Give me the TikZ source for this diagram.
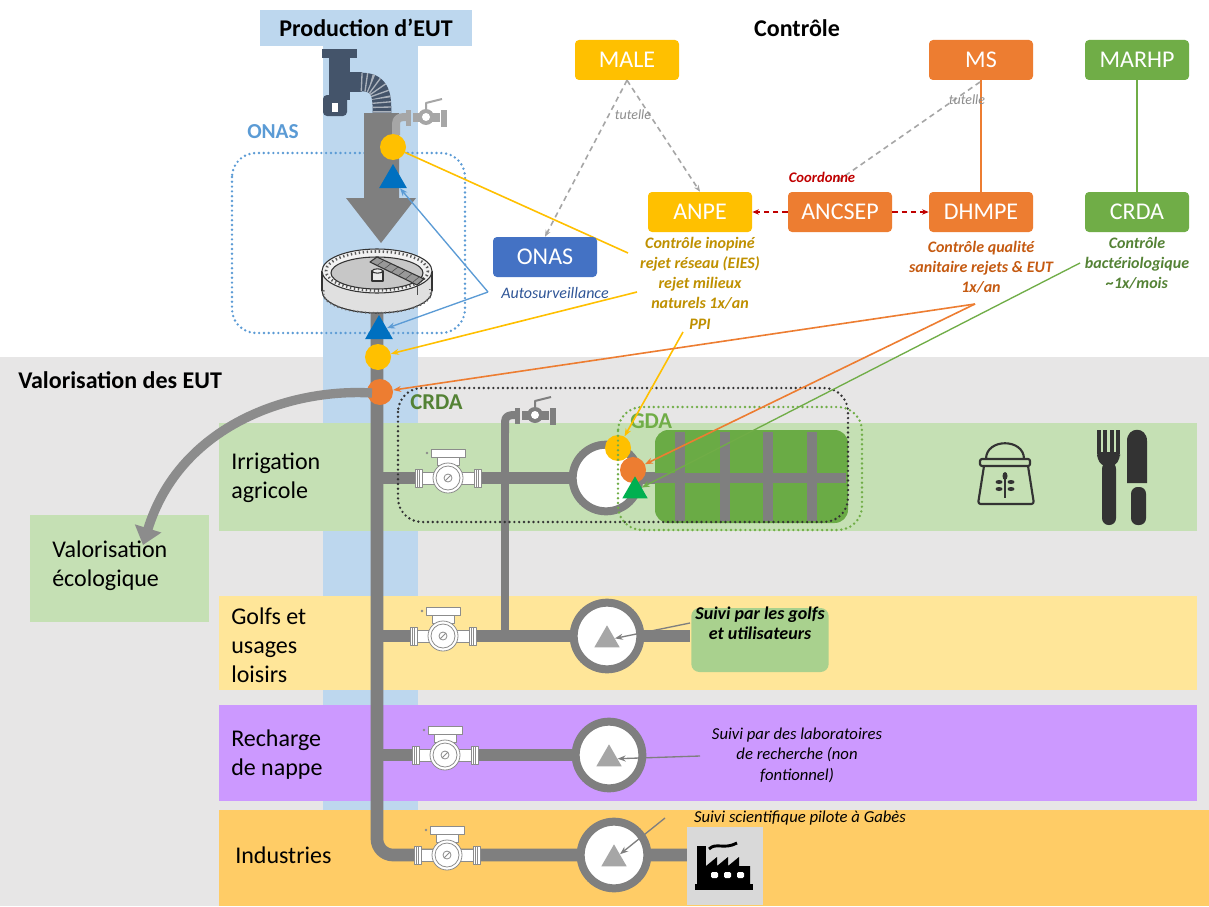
\documentclass[tikz,border=0pt]{standalone}
\usepackage{fontspec}
\setmainfont{Carlito}
\usetikzlibrary{arrows.meta,shapes.geometric,calc}

\definecolor{bandblue}{HTML}{BDD7EE}
\definecolor{bggrey}{HTML}{E7E6E6}
\definecolor{rowgreen}{HTML}{C5E0B4}
\definecolor{rowyellow}{HTML}{FFE699}
\definecolor{rowpurple}{HTML}{CC99FF}
\definecolor{roworange}{HTML}{FFCC66}
\definecolor{pipegrey}{HTML}{7F7F7F}
\definecolor{yel}{HTML}{FFC000}
\definecolor{ora}{HTML}{ED7D31}
\definecolor{grn}{HTML}{70AD47}
\definecolor{blu}{HTML}{4472C4}
\definecolor{tblue}{HTML}{0070C0}
\definecolor{tgreen}{HTML}{00B050}
\definecolor{dgreen}{HTML}{548235}
\definecolor{lblue}{HTML}{5B9BD5}
\definecolor{anpegold}{HTML}{BF9000}
\definecolor{rust}{HTML}{C55A11}
\definecolor{dred}{HTML}{C00000}
\definecolor{navy}{HTML}{44546A}
\definecolor{fieldgreen}{HTML}{6AAB45}
\definecolor{boxgreen}{HTML}{A9D18E}
\definecolor{tgrey}{HTML}{A6A6A6}
\definecolor{vgrey}{HTML}{A6A6A6}
\definecolor{mgrey}{HTML}{8C8C8C}
\definecolor{icondark}{HTML}{333333}
\definecolor{facgrey}{HTML}{D9D9D9}
\definecolor{autoblue}{HTML}{2F5597}

\tikzset{
  pipe/.style={draw=pipegrey, line width=9.5pt},
  dotline/.style={line width=2pt, dash pattern=on 0pt off 3.6pt, line cap=round},
  orgbox/.style={rounded corners=3pt, minimum width=78pt, minimum height=30pt, inner sep=0pt,
    text=white, font=\fontsize{18}{22}\selectfont},
  station/.style={circle, draw=pipegrey, line width=6pt, fill=white, minimum size=50pt, inner sep=0pt},
  tri/.style={regular polygon, regular polygon sides=3, inner sep=0pt, minimum size=22pt},
  spot/.style={circle, inner sep=0pt, minimum size=19.5pt},
  note/.style={font=\fontsize{12}{15}\selectfont\bfseries\itshape, align=center, inner sep=0pt},
  smallnote/.style={font=\fontsize{12.5}{15.3}\selectfont\itshape, align=center, inner sep=0pt},
  rowlabel/.style={anchor=west, align=left, inner sep=0pt, font=\fontsize{18}{21.8}\selectfont},
  heading/.style={font=\fontsize{18}{22}\selectfont\bfseries, inner sep=0pt},
  tip/.style={-{Stealth[length=6pt,width=4.5pt]}},
  tutelle/.style={draw=tgrey, line width=1.2pt, dash pattern=on 4pt off 3pt, -{Stealth[length=5pt,width=4pt]}},
  coord/.style={draw=dred, line width=1.2pt, dash pattern=on 4pt off 3pt, -{Stealth[length=5pt,width=4pt]}},
  meter/.pic={
    \begin{scope}[draw=mgrey, line width=0.6pt, fill=white]
      \filldraw (-33,-9) rectangle (-26,9);
      \filldraw (26,-9) rectangle (33,9);
      \draw (-30.5,-9) -- (-30.5,9); \draw (-28.2,-9) -- (-28.2,9);
      \draw (30.5,-9) -- (30.5,9); \draw (28.2,-9) -- (28.2,9);
      \filldraw (-26,-6) rectangle (-13,6);
      \filldraw (13,-6) rectangle (26,6);
      \filldraw (-11,-21) rectangle (11,-13);
      \filldraw (-17,-29) rectangle (17,-21);
      \filldraw (0,0) circle (15);
      \draw (0,0) circle (12);
      \draw (0,0) circle (4);
      \draw (-3,3) -- (3,-3);
      \fill[mgrey] (-21,-25) circle (1.3);
    \end{scope}
  },
  valve/.pic={
    \draw[line width=6pt] (0,0) -- (0,-11) .. controls (0,-17) and (4,-18) .. (10,-18);
    \fill (10,-25) rectangle (15,-9);
    \fill (17,-22) rectangle (44,-13);
    \fill (30,-18) circle (8);
    \fill[white] (30,-18) circle (4);
    \fill (45,-25) rectangle (51,-8);
    \draw[line width=1.5pt] (30,-26) -- (30,-32) -- (46,-36);
  },
}

\begin{document}
\begin{tikzpicture}[x=0.75pt, y=-0.75pt, line join=round]
\useasboundingbox (0,0) rectangle (1209,906);

% ---------- backgrounds ----------
\fill[white] (0,0) rectangle (1209,906);
\fill[bggrey] (0,357) rectangle (1209,906);
\fill[bandblue] (323,40) rectangle (418,810);
\node[fill=bandblue, minimum width=159pt, minimum height=27pt, heading] (prod) at (366,28) {Production d’EUT};
\node[heading] (ctrl) at (797,28) {Contrôle};
\node[heading, anchor=west] (valo) at (18,380) {Valorisation des EUT};

% ---------- usage rows ----------
\fill[rowgreen] (219,423) rectangle (1197,531);
\fill[rowgreen] (30,515) rectangle (209,622);
\fill[rowyellow] (219,596) rectangle (1197,690);
\fill[rowpurple] (219,705) rectangle (1197,801);
\fill[roworange] (219,810) rectangle (1209,906);

\node[rowlabel] (irr) at (231,478) {Irrigation\\agricole};
\node[rowlabel] (eco) at (52,566) {Valorisation\\écologique};
\node[rowlabel] (golf) at (231,645) {Golfs et\\usages\\loisirs};
\node[rowlabel] (rech) at (231,755) {Recharge\\de nappe};
\node[rowlabel] (ind) at (235,855) {Industries};

% ---------- ONAS perimeter ----------
\draw[dotline, lblue, rounded corners=18pt] (232,153) rectangle (465,333);
\node[font=\fontsize{16}{20}\selectfont\bfseries, text=lblue, inner sep=0pt] (onaslbl) at (273,132) {ONAS};

% ---------- pipes ----------
\draw[pipe, rounded corners=12pt] (377,300) -- (377,855) -- (690,855);
\draw[pipe] (377,478) -- (845,478);
\draw[pipe] (377,636) -- (690,636);
\draw[pipe] (377,755) -- (600,755);
\draw[pipegrey, line width=6pt] (505,430) -- (505,636);

% cultivated plot
\fill[fieldgreen, rounded corners=10pt] (655,430) rectangle (848,523);
\foreach \gx in {680,725,768,812} \draw[pipegrey, line width=7pt] (\gx,432) -- (\gx,521);
\draw[pipegrey, line width=7pt] (640,478) -- (846,478);

% drain inlet
\begin{scope}[navy]
  \fill (322,49) rectangle (357,58);
  \fill (329,58) rectangle (350,100);
  \fill (348,72) rectangle (362,92);
  \draw[line width=14pt] (361,82) .. controls (381,82) and (382,95) .. (382,113);
  \draw[navy!45, line width=14pt, dash pattern=on 1pt off 2.5pt] (361,82) .. controls (381,82) and (382,95) .. (382,113);
  \fill[rounded corners=3pt] (323,95) rectangle (347,116);
  \fill[white] (332,103) rectangle (338,112);
\end{scope}

% main flow arrow
\fill[pipegrey] (364,113) -- (399,113) -- (399,198) -- (416,198) -- (381,243) -- (346,198) -- (364,198) -- cycle;

% clarifier
\begin{scope}[draw=icondark, line width=0.8pt]
  \filldraw[fill=black!12] (377,291) ellipse (55 and 22);
  \fill[black!12] (322,271) rectangle (432,291);
  \draw (322,271) -- (322,291);
  \draw (432,271) -- (432,291);
  \draw[dash pattern=on 1pt off 2pt, line width=1.5pt, black!60] (377,293) ellipse (54 and 20);
  \fill[black!12] (323,271) rectangle (431,289);
  \filldraw[fill=black!5] (377,271) ellipse (55 and 22);
  \draw[dash pattern=on 1pt off 2pt, line width=2pt, black!65] (377,271) ellipse (51 and 19.5);
  \filldraw[fill=black!22] (377,273) ellipse (46 and 16);
  \filldraw[fill=black!8] (372,271) rectangle (383,281);
  \filldraw[fill=black!8] (377.5,271) ellipse (5.5 and 2.2);
  \filldraw[fill=black!40] (370,262) -- (377,257) -- (424,279) -- (417,285) -- cycle;
  \foreach \k in {0.15,0.3,0.45,0.6,0.75,0.9}
    \draw[black!70, line width=0.4pt] ($(370,262)!\k!(417,285)$) -- ($(377,257)!\k!(424,279)$);
  \draw[black!70, line width=0.6pt] (417,285) -- (417,295);
\end{scope}

% valves
\pic[vgrey] at (396,135) {valve};
\pic[pipegrey] at (505,433) {valve};

% meters
\pic at (448,478) {meter};
\pic at (443,636) {meter};
\pic at (445,755) {meter};
\pic at (447,855) {meter};

% monitoring stations
\node[station] (si) at (606,478) {};
\node[station] (sg) at (607,636) {};
\node[station] (sr) at (609,755) {};
\node[station] (sind) at (614,855) {};
\node[tri, fill=tgrey] (tg) at (607,640) {};
\node[tri, fill=tgrey] (tr) at (609,759) {};
\node[tri, fill=tgrey] (tind) at (614,859) {};

% sampling points on the main line
\node[tri, fill=tblue, minimum size=24pt] (bt1) at (393,180) {};
\node[spot, fill=yel] (yc1) at (393,147) {};
\node[tri, fill=tblue, minimum size=24pt] (bt2) at (379,331) {};
\node[spot, fill=yel] (yc2) at (378,357) {};
\node[spot, fill=ora] (oc1) at (380,392) {};

% sampling points on the irrigation line
\node[spot, fill=yel] (yc3) at (618,448) {};
\node[spot, fill=ora] (oc2) at (633,470) {};
\node[tri, fill=tgreen] (gt) at (635,491) {};

% diversion to ecological use
\draw[mgrey, line width=7pt, -{Triangle[length=13pt,width=20pt]}]
  (372,393) .. controls (290,388) and (180,425) .. (143,545);

% CRDA and GDA perimeters
\draw[dotline, black!80, rounded corners=18pt] (398,388) rectangle (848,522);
\draw[dotline, grn, rounded corners=18pt] (618,407) rectangle (862,530);
\node[font=\fontsize{17}{20}\selectfont\bfseries, text=dgreen, anchor=west, inner sep=0pt] (crdalbl) at (410,402) {CRDA};
\node[font=\fontsize{17}{20}\selectfont\bfseries, text=grn, anchor=west, inner sep=0pt] (gdalbl) at (630,421) {GDA};

% products icons
\begin{scope}[draw=icondark, line width=1.6pt]
  \draw (986,459) .. controls (986,438) and (1024,438) .. (1024,459);
  \draw[rounded corners=1.5pt] (980,459) rectangle (1030,466);
  \draw[rounded corners=2pt] (984,466) -- (978,504) -- (1034,504) -- (1028,466);
  \draw[line width=1.2pt] (1005,474) -- (1005,498);
  \fill[icondark] (1005,476) ellipse (2.5 and 4);
  \fill[icondark] (999,482) ellipse (3.5 and 2);
  \fill[icondark] (1011,482) ellipse (3.5 and 2);
  \fill[icondark] (999,489) ellipse (3.5 and 2);
  \fill[icondark] (1011,489) ellipse (3.5 and 2);
\end{scope}
\begin{scope}[icondark]
  \foreach \tx in {1097,1103.3,1109.6,1115.9} \fill (\tx,430) rectangle ++(4.1,24);
  \fill[rounded corners=3pt] (1097,452) -- (1120,452) -- (1120,458) -- (1115,466) -- (1102,466) -- (1097,458) -- cycle;
  \fill[rounded corners=5pt] (1102,462) rectangle (1116,525);
  \fill (1127,483) -- (1127,441) .. controls (1127,426) and (1147,426) .. (1147,441) -- (1147,483) -- cycle;
  \fill[rounded corners=5pt] (1131,487) rectangle (1146,525);
\end{scope}

% factory
\node[fill=facgrey, minimum width=57pt, minimum height=59pt, inner sep=0pt] (fac) at (725,866) {};
\begin{scope}[black]
  \fill (697,846) rectangle (706,884);
  \draw[line width=2.2pt] (709,849) .. controls (716,842) and (724,850) .. (737,843);
  \fill (706,884) -- (706,866) -- (717,857) -- (717,866) -- (728,857) -- (728,866) -- (739,857) -- (739,866) -- (750,866) -- (750,884) -- cycle;
  \fill[white, rounded corners=1pt] (711,872) rectangle (718,878);
  \fill[white, rounded corners=1pt] (724,872) rectangle (731,878);
  \fill[white, rounded corners=1pt] (737,872) rectangle (744,878);
  \fill (695,884) rectangle (753,890);
\end{scope}

% golf follow-up box
\node[fill=boxgreen, rounded corners=6pt, minimum width=103pt, minimum height=48pt, inner sep=0pt] (golfbox) at (760,640) {};

% ---------- control bodies ----------
\coordinate (y1a) at (628,253);
\coordinate (y2a) at (637,292);
\coordinate (ppia) at (683,332);
\coordinate (dha) at (975,304);
\coordinate (cra) at (1080,263);
\coordinate (aua) at (488,292);
\coordinate (gpa) at (690,623);
\coordinate (rpa) at (700,756);
\coordinate (ipa) at (665,818);

\draw[yel, line width=1.2pt] (y1a) -- (yc1);
\draw[yel, line width=1.2pt, tip] (y2a) -- (yc2);
\draw[yel, line width=1.2pt, tip] (ppia) -- (yc3);
\draw[ora, line width=1.2pt, tip] (dha) -- (oc1);
\draw[ora, line width=1.2pt, tip] (dha) -- (oc2);
\draw[grn, line width=1pt, tip] (cra) -- (gt);
\draw[lblue, line width=1pt, tip] (aua) -- (bt1);
\draw[lblue, line width=1pt, tip] (aua) -- (bt2);
\draw[pipegrey, line width=1pt, tip] (gpa) -- (tg);
\draw[pipegrey, line width=1pt, tip] (rpa) -- (tr);
\draw[pipegrey, line width=1pt, tip] (ipa) -- (tind);

\node[orgbox, fill=yel] (male) at (627,60) {MALE};
\node[orgbox, fill=yel] (anpe) at (700,212) {ANPE};
\node[orgbox, fill=blu] (onas) at (545,257) {ONAS};
\node[orgbox, fill=ora] (ancsep) at (840,212) {ANCSEP};
\node[orgbox, fill=ora] (dhmpe) at (981,212) {DHMPE};
\node[orgbox, fill=ora] (ms) at (981,60) {MS};
\node[orgbox, fill=grn] (marhp) at (1137,60) {MARHP};
\node[orgbox, fill=grn] (crda) at (1137,212) {CRDA};

\draw[ora, line width=2pt] (ms) -- (dhmpe);
\draw[grn, line width=2pt] (marhp) -- (crda);
\draw[tutelle] (male.south) -- (onas.north);
\draw[tutelle] (male.south) -- (anpe.north);
\coordinate (msb) at (980,82);
\coordinate (coordt) at (836,182);
\draw[tutelle] (msb) -- (coordt);
\draw[coord] (ancsep) -- (anpe);
\draw[coord] (ancsep) -- (dhmpe);

\node[font=\fontsize{10.5}{12}\selectfont\itshape, text=black!45, inner sep=0pt] (tut1) at (633,115) {tutelle};
\node[font=\fontsize{10.5}{12}\selectfont\itshape, text=black!45, inner sep=0pt] (tut2) at (967,100) {tutelle};
\node[font=\fontsize{11}{13}\selectfont\bfseries\itshape, text=dred, inner sep=0pt] (coordl) at (822,177) {Coordonne};

\node[note, text=anpegold] (anpetxt) at (700,273) {Contrôle inopiné\\rejet réseau (EIES)\\rejet milieux\\naturels 1x/an};
\node[note, text=anpegold] (ppi) at (700,324) {PPI};
\node[note, text=rust] (dhtxt) at (981,267) {Contrôle qualité\\sanitaire rejets \& EUT\\1x/an};
\node[note, text=dgreen] (crtxt) at (1137,263) {Contrôle\\bactériologique\\\textasciitilde1x/mois};
\node[font=\fontsize{12}{15}\selectfont\itshape, text=autoblue, inner sep=0pt] (auto) at (555,293) {Autosurveillance};

\node[smallnote, font=\fontsize{13.5}{15.3}\selectfont\bfseries\itshape] (golftxt) at (760,623) {Suivi par les golfs\\et utilisateurs};
\node[smallnote] (rechtxt) at (797,755) {Suivi par des laboratoires\\de recherche (non\\fontionnel)};
\node[smallnote] (indtxt) at (800,818) {Suivi scientifique pilote à Gabès};

\end{tikzpicture}
\end{document}
